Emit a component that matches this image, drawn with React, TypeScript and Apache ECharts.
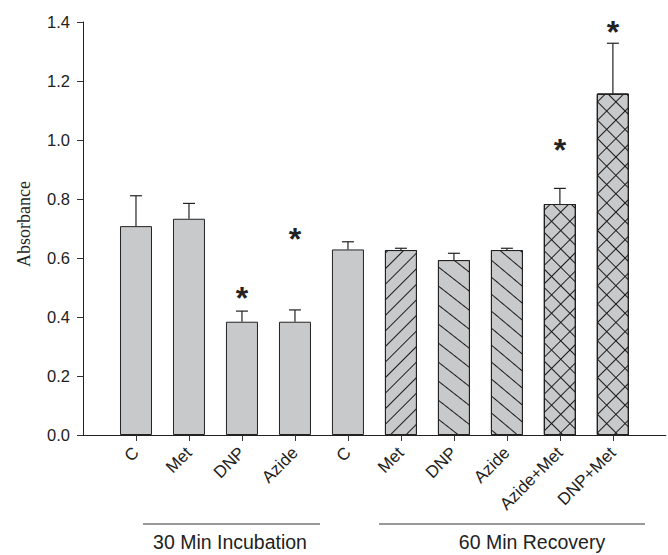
import React, { useEffect, useRef } from "react";
import * as echarts from "echarts";

const categories = ["C", "Met", "DNP", "Azide", "C", "Met", "DNP", "Azide", "Azide+Met", "DNP+Met"];
const means = [0.708, 0.733, 0.384, 0.384, 0.629, 0.627, 0.593, 0.627, 0.783, 1.157];
const errTops = [0.811, 0.785, 0.42, 0.424, 0.655, 0.633, 0.616, 0.633, 0.836, 1.328];
const starValues = [null, null, 0.466, 0.665, null, null, null, null, 0.966, 1.367];
const hatches = ["none", "none", "none", "none", "none", "fwd", "back1", "back2", "cross", "cross"];
const groupLabels = ["30 Min Incubation", "60 Min Recovery"];
const yTicks = [0, 0.2, 0.4, 0.6, 0.8, 1.0, 1.2, 1.4];

const SANS = "Liberation Sans, Arial, Helvetica, sans-serif";
const INK = "#222";
const FILL = "#c8c9cb";

const decalFor = (kind: string, second = false): any => {
  const base = { symbol: "rect", symbolSize: 1, color: "#1a1a1a", dashArrayX: [1, 0] };
  if (kind === "fwd") return { ...base, dashArrayY: [1, 9.6], rotation: -Math.PI / 4 };
  if (kind === "back1") return { ...base, dashArrayY: [1, 14], rotation: (38 * Math.PI) / 180 };
  if (kind === "back2") return { ...base, dashArrayY: [1, 11.5], rotation: (40 * Math.PI) / 180 };
  if (kind === "cross")
    return { ...base, dashArrayY: [1, 11.5], rotation: second ? -Math.PI / 4 : Math.PI / 4 };
  return undefined;
};

export default function App() {
  const ref = useRef<HTMLDivElement>(null);
  useEffect(() => {
    if (!ref.current) return;
    const chart = echarts.init(ref.current, undefined, { renderer: "svg" });
    const axisCats = ["", ...categories, ""];

    const barData: any[] = ["-"];
    means.forEach((v, i) => {
      const d = decalFor(hatches[i]);
      barData.push(d ? { value: v, itemStyle: { decal: d } } : v);
    });
    barData.push("-");

    const overlayData: any[] = ["-"];
    means.forEach((v, i) => {
      overlayData.push(
        hatches[i] === "cross" ? { value: v, itemStyle: { decal: decalFor("cross", true) } } : "-"
      );
    });
    overlayData.push("-");

    const errData = means.map((v, i) => [i + 1, v, errTops[i]]);
    const starData = starValues
      .map((v, i) => (v == null ? null : [i + 1, v]))
      .filter((d) => d !== null);

    const tickFilter = (_i: number, v: string) => v !== "";

    const option: any = {
      animation: false,
      grid: { left: 83, right: -7, top: 22, bottom: 120, containLabel: false },
      xAxis: {
        type: "category",
        data: axisCats,
        boundaryGap: false,
        axisLine: { lineStyle: { color: INK, width: 1 } },
        axisTick: { interval: tickFilter, length: 6, lineStyle: { color: "#333" } },
        axisLabel: {
          interval: 0,
          rotate: 45,
          margin: 15,
          fontFamily: SANS,
          fontSize: 17,
          color: INK,
        },
        splitLine: { show: false },
      },
      yAxis: {
        type: "value",
        min: 0,
        max: 1.4,
        interval: 0.2,
        axisLine: { show: true, lineStyle: { color: INK, width: 1 } },
        axisTick: { show: true, length: 6, lineStyle: { color: "#333" } },
        axisLabel: {
          margin: 13,
          fontFamily: SANS,
          fontSize: 16.5,
          color: INK,
          formatter: (v: number) => (yTicks.some((t) => Math.abs(t - v) < 1e-6) ? v.toFixed(1) : ""),
        },
        splitLine: { show: false },
      },
      series: [
        {
          type: "bar",
          data: barData,
          barWidth: 32,
          itemStyle: { color: FILL, borderColor: INK, borderWidth: 1 },
          z: 2,
        },
        {
          type: "bar",
          data: overlayData,
          barWidth: 32,
          barGap: "-100%",
          itemStyle: { color: "rgba(0,0,0,0)", borderColor: INK, borderWidth: 1 },
          z: 3,
        },
        {
          type: "custom",
          data: errData,
          z: 4,
          renderItem: (_p: any, api: any) => {
            const x = api.value(0);
            const p0 = api.coord([x, api.value(1)]);
            const p1 = api.coord([x, api.value(2)]);
            const st = { stroke: INK, lineWidth: 1.2 };
            return {
              type: "group",
              children: [
                { type: "line", shape: { x1: p0[0], y1: p0[1], x2: p1[0], y2: p1[1] }, style: st },
                { type: "line", shape: { x1: p1[0] - 6, y1: p1[1], x2: p1[0] + 6, y2: p1[1] }, style: st },
              ],
            };
          },
        },
        {
          type: "custom",
          data: starData,
          z: 5,
          renderItem: (_p: any, api: any) => {
            const p = api.coord([api.value(0), api.value(1)]);
            return {
              type: "text",
              x: p[0],
              y: p[1],
              style: {
                text: "*",
                fontFamily: SANS,
                fontSize: 32,
                fontWeight: "bold",
                fill: INK,
                align: "center",
                verticalAlign: "middle",
              },
            };
          },
        },
      ],
      graphic: [
        { type: "line", shape: { x1: 143, y1: 524, x2: 320, y2: 524 }, style: { stroke: "#777", lineWidth: 1.5 } },
        { type: "line", shape: { x1: 379, y1: 524, x2: 645, y2: 524 }, style: { stroke: "#777", lineWidth: 1.5 } },
        {
          type: "text",
          x: 230,
          y: 552,
          style: { text: groupLabels[0], fontFamily: SANS, fontSize: 19.5, fill: INK, align: "center", verticalAlign: "bottom" },
        },
        {
          type: "text",
          x: 532,
          y: 552,
          style: { text: groupLabels[1], fontFamily: SANS, fontSize: 19.5, fill: INK, align: "center", verticalAlign: "bottom" },
        },
        {
          type: "text",
          x: 24,
          y: 224,
          rotation: Math.PI / 2,
          style: {
            text: "Absorbance",
            fontFamily: "Liberation Serif, Times New Roman, serif",
            fontSize: 18,
            fill: INK,
            align: "center",
            verticalAlign: "middle",
          },
        },
      ],
    };
    chart.setOption(option);
    return () => chart.dispose();
  }, []);
  return (
    <div
      ref={ref}
      style={{ position: "absolute", left: 0, top: 0, width: 668, height: 555, background: "#fff" }}
    />
  );
}
